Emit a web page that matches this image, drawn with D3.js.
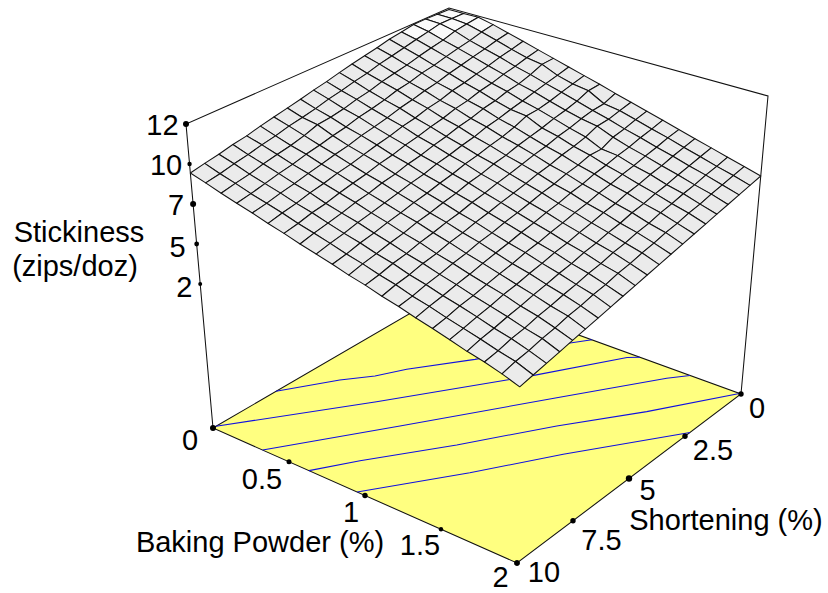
<!doctype html>
<html>
<head>
<meta charset="UTF-8">
<title>Stickiness surface</title>
<script src="https://d3js.org/d3.v7.min.js"></script>
<style>
  body { margin: 0; background: #fff; }
  text { font-family: Arial, "Liberation Sans", sans-serif; font-size: 29px; fill: #000; }
</style>
</head>
<body>
<svg width="828" height="593"></svg>
<script>
var bpValues = [0,0.1,0.2,0.3,0.4,0.5,0.6,0.7,0.8,0.9,1,1.1,1.2,1.3,1.4,1.5,1.6,1.7,1.8,1.9,2];
var shValues = [0,0.5,1,1.5,2,2.5,3,3.5,4,4.5,5,5.5,6,6.5,7,7.5,8,8.5,9,9.5,10];

// stickiness, one row per baking powder value, one column per shortening value
var stickiness = [
  [12.40,12.42,12.45,12.44,12.30,12.18,11.98,11.82,11.65,11.46,11.25,11.08,10.88,10.70,10.52,10.34,10.12,9.98,9.78,9.62,9.44],
  [12.40,12.42,12.42,12.25,12.08,11.90,11.72,11.56,11.33,11.17,10.96,10.80,10.58,10.40,10.25,10.03,9.87,9.66,9.50,9.30,9.15],
  [12.42,12.32,12.20,11.96,11.80,11.62,11.41,11.25,11.08,10.85,10.70,10.48,10.33,10.25,9.96,9.74,9.58,9.40,9.18,9.03,8.84],
  [12.20,12.06,11.85,11.70,11.52,11.31,11.18,10.95,10.82,10.58,10.40,10.25,10.02,9.86,9.66,9.50,9.28,9.12,8.92,8.72,8.56],
  [11.92,11.78,11.58,11.42,11.24,11.07,10.85,10.70,10.50,10.34,10.12,9.94,9.78,9.55,9.40,9.20,9.03,8.82,8.66,8.46,8.30],
  [11.65,11.47,11.32,11.12,10.95,10.76,10.62,10.38,10.25,10.02,9.88,9.66,9.50,9.30,9.10,8.95,8.74,8.58,8.36,8.20,8.00],
  [11.36,11.20,11.00,10.85,10.64,10.50,10.28,10.15,9.92,9.76,9.55,9.40,9.18,9.04,8.82,8.66,8.48,8.26,8.12,7.90,7.74],
  [11.08,11.05,10.75,10.52,10.40,10.18,10.05,9.82,9.68,9.46,9.30,9.08,8.94,8.72,8.58,8.36,8.22,8.00,7.82,7.65,7.44],
  [10.80,10.62,10.45,10.28,10.08,9.92,9.72,9.58,9.35,9.20,9.00,8.85,8.62,8.48,8.28,8.10,7.92,7.76,7.54,7.38,7.18],
  [10.52,10.35,10.18,9.98,9.84,9.80,9.48,9.26,9.10,8.90,8.76,8.54,8.38,8.18,8.02,7.82,7.66,7.46,7.30,7.08,6.92],
  [10.25,10.20,9.90,9.70,9.55,9.34,9.18,9.02,8.80,8.66,8.44,8.30,8.08,7.92,7.72,7.58,7.36,7.20,7.00,6.84,6.62],
  [9.94,9.65,9.60,9.45,9.24,9.10,8.88,8.74,8.55,8.36,8.20,8.00,7.84,7.62,7.48,7.28,7.12,6.90,6.76,6.54,6.38],
  [9.66,9.50,9.33,9.28,8.98,8.78,8.64,8.42,8.28,8.08,7.90,7.74,7.54,7.38,7.18,7.02,6.80,6.66,6.44,6.30,6.08],
  [9.38,9.22,9.02,8.88,8.52,8.54,8.32,8.18,7.96,7.82,7.62,7.44,7.28,7.08,6.94,6.72,6.56,6.36,6.20,5.98,5.84],
  [9.10,8.92,8.76,8.56,8.42,8.22,8.08,7.86,7.72,7.50,7.36,7.16,7.00,6.80,6.64,6.46,6.26,6.10,5.90,5.74,5.54],
  [8.80,8.66,8.46,8.30,8.10,7.96,7.76,7.62,7.40,7.26,7.06,6.90,6.70,6.56,6.34,6.18,6.00,5.80,5.66,5.44,5.28],
  [8.52,8.36,8.20,8.00,7.86,7.66,7.52,7.30,7.16,6.96,6.80,6.60,6.46,6.26,6.10,5.90,5.76,5.54,5.38,5.18,5.00],
  [8.24,8.08,7.90,7.74,7.54,7.40,7.20,7.06,6.84,6.70,6.50,6.36,6.14,6.00,5.80,5.64,5.44,5.28,5.08,4.92,4.70],
  [7.96,7.78,7.64,7.44,7.30,7.10,6.96,6.74,6.60,6.40,6.26,6.04,5.90,5.70,5.54,5.34,5.20,4.98,4.84,4.62,4.46],
  [7.68,7.52,7.34,7.18,6.98,6.84,6.64,6.50,6.30,6.14,5.94,5.80,5.58,5.44,5.24,5.10,4.88,4.74,4.52,4.38,4.16],
  [7.40,7.22,7.04,6.86,6.68,6.50,6.32,6.14,5.96,5.78,5.60,5.42,5.24,5.06,4.88,4.70,4.52,4.34,4.16,3.98,3.80]
];

// contour lines on the floor, as baking powder / shortening pairs
var contourBp = [
  [0,0.19,0.314,0.403,0.631,0.938,1.014],
  [0,0.50,0.91,1.0,1.286,1.342],
  [0.356,0.761,1.238,1.589,1.673],
  [0.677,0.819,1.114,1.411,1.702,1.99],
  [1.0,1.333,1.603,2]
];
var contourSh = [
  [7.59,6.07,5.32,4.50,2.91,0.53,0],
  [9.89,6.34,3.28,2.59,0.23,0],
  [10,6.92,3.21,0.52,0],
  [10,8.85,6.74,4.39,2.33,0],
  [10,7.58,5.42,2.52]
];

var zTicks = [12.5,10,7.5,5,2.5];
var zLabels = ["12","10","7","5","2"];
var bpTicks = [0,0.5,1,1.5,2];
var bpLabels = ["0","0.5","1","1.5","2"];
var shTicks = [0,2.5,5,7.5,10];
var shLabels = ["0","2.5","5","7.5","10"];

// the box in the picture: back, right, front, left corner
var floorCorners = [[452,289],[741,394],[517,563],[213,428]];
var topCorners = [[449,8],[768,96],[522,238],[186,124]];

var bpScale = d3.scaleLinear().domain([0,2]).range([0,1]);
var shScale = d3.scaleLinear().domain([0,10]).range([0,1]);
var zScale = d3.scaleLinear().domain([-6.5,12.5]).range([0,1]);
var zFloor = -6.5, zTop = 12.5;

// the ticks sit evenly along the two front edges, without the perspective of the grid
var bpAxisX = d3.scaleLinear().domain([0,2]).range([floorCorners[3][0],floorCorners[2][0]]);
var bpAxisY = d3.scaleLinear().domain([0,2]).range([floorCorners[3][1],floorCorners[2][1]]);
var shAxisX = d3.scaleLinear().domain([0,10]).range([floorCorners[1][0],floorCorners[2][0]]);
var shAxisY = d3.scaleLinear().domain([0,10]).range([floorCorners[1][1],floorCorners[2][1]]);

function homography(c){
  var dx1=c[1][0]-c[2][0], dx2=c[3][0]-c[2][0], sx=c[0][0]-c[1][0]+c[2][0]-c[3][0];
  var dy1=c[1][1]-c[2][1], dy2=c[3][1]-c[2][1], sy=c[0][1]-c[1][1]+c[2][1]-c[3][1];
  var det=dx1*dy2-dx2*dy1;
  var g=(sx*dy2-dx2*sy)/det, h=(dx1*sy-sx*dy1)/det;
  var a=c[1][0]-c[0][0]+g*c[1][0], b=c[3][0]-c[0][0]+h*c[3][0];
  var d=c[1][1]-c[0][1]+g*c[1][1], e=c[3][1]-c[0][1]+h*c[3][1];
  return function(u,v){
    var w=g*u+h*v+1;
    return [(a*u+b*v+c[0][0])/w,(d*u+e*v+c[0][1])/w];
  };
}
var floorAt = homography(floorCorners);
var topAt = homography(topCorners);

function project(bp,sh,z){
  var u=bpScale(bp), v=shScale(sh), t=zScale(z);
  var f=floorAt(u,v), p=topAt(u,v);
  return [f[0]+(p[0]-f[0])*t, f[1]+(p[1]-f[1])*t];
}

var svg = d3.select("svg");
var line = d3.line();

// floor
svg.append("path")
  .attr("d", line([project(0,0,zFloor),project(2,0,zFloor),project(2,10,zFloor),project(0,10,zFloor)])+"Z")
  .attr("fill","#ffff80").attr("stroke","#111").attr("stroke-width",1.05);

// contours
svg.selectAll("path.contour")
  .data(contourBp.map(function(bp,i){ return d3.zip(bp,contourSh[i]); }))
  .enter().append("path").attr("class","contour")
  .attr("d", function(d){ return line(d.map(function(p){ return project(p[0],p[1],zFloor); })); })
  .attr("fill","none").attr("stroke","#1010e0").attr("stroke-width",1.05);

// box edges
svg.append("path")
  .attr("d", line([project(0,10,zFloor),project(0,10,zTop),project(0,0,zTop),project(2,0,zTop),project(2,0,zFloor)]))
  .attr("fill","none").attr("stroke","#111").attr("stroke-width",1.05);

// surface, back to front
var cells = [];
d3.range(bpValues.length-1).forEach(function(i){
  d3.range(shValues.length-1).forEach(function(j){
    cells.push({i:i,j:j});
  });
});
cells.sort(function(a,b){ return (a.i+a.j)-(b.i+b.j); });

svg.selectAll("path.cell").data(cells).enter().append("path").attr("class","cell")
  .attr("d", function(d){
    var i=d.i, j=d.j;
    return line([
      project(bpValues[i],shValues[j],stickiness[i][j]),
      project(bpValues[i+1],shValues[j],stickiness[i+1][j]),
      project(bpValues[i+1],shValues[j+1],stickiness[i+1][j+1]),
      project(bpValues[i],shValues[j+1],stickiness[i][j+1])
    ])+"Z";
  })
  .attr("fill", function(d){
    var m=d3.mean([stickiness[d.i][d.j],stickiness[d.i+1][d.j],stickiness[d.i][d.j+1],stickiness[d.i+1][d.j+1]]);
    return m>12.2 ? "#fafafa" : "#ebebeb";
  })
  .attr("stroke","#111").attr("stroke-width",1.05).attr("stroke-linejoin","round");

// ticks and labels
function ticks(points,labels,radius,offset){
  points.forEach(function(p,i){
    svg.append("circle").attr("cx",p[0]).attr("cy",p[1]).attr("r",radius[i]).attr("fill","#000");
    svg.append("text").attr("x",p[0]+offset[i][0]).attr("y",p[1]+offset[i][1])
      .attr("text-anchor","middle").text(labels[i]);
  });
}
ticks(zTicks.map(function(z){ return project(0,10,z); }), zLabels,
  [3,2.2,3,2.4,2], [[-23.5,11],[-23.5,11],[-17,11],[-19,13],[-16,13]]);
ticks(bpTicks.map(function(b){ return [bpAxisX(b),bpAxisY(b)]; }), bpLabels,
  [3,2.5,2.7,2.2,2.7], [[-23,22],[-27,27.5],[-14,26],[-21,26],[-16.5,24]]);
ticks(shTicks.map(function(s){ return [shAxisX(s),shAxisY(s)]; }), shLabels,
  [2.7,2.7,3.2,2.7,2.7], [[16,24],[28,24],[18.5,21.5],[28.5,29],[27,19]]);

// axis titles
svg.append("text").attr("x",79).attr("y",241.5).attr("text-anchor","middle").text("Stickiness");
svg.append("text").attr("x",75).attr("y",275.5).attr("text-anchor","middle").text("(zips/doz)");
svg.append("text").attr("x",260).attr("y",552).attr("text-anchor","middle").text("Baking Powder (%)");
svg.append("text").attr("x",726).attr("y",530).attr("text-anchor","middle").text("Shortening (%)");
</script>
</body>
</html>
